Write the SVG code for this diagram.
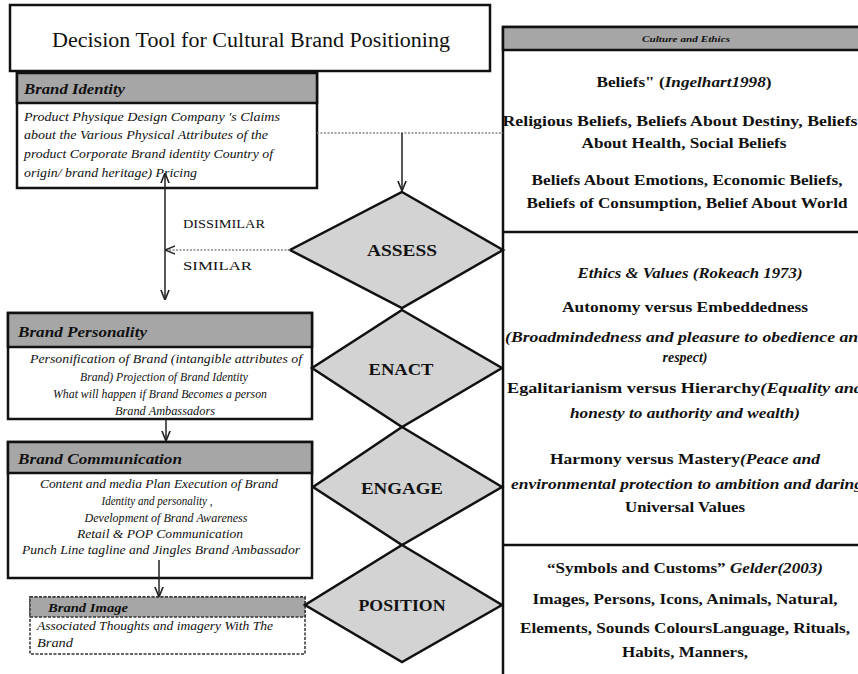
<svg xmlns="http://www.w3.org/2000/svg" width="858" height="674" viewBox="0 0 858 674">
<defs>
<style>
.box{fill:#fff;stroke:#111;stroke-width:2.5}
.hdr{fill:#a6a6a6;stroke:#111;stroke-width:2.5}
.dia{fill:#d3d3d3;stroke:#111;stroke-width:2.5}
text{font-family:Times,"Times New Roman","Liberation Serif","DejaVu Serif",serif;fill:#111}
.title{font-size:20px}
.h{font-size:15px;font-weight:bold;font-style:italic}
.b{font-size:12px;font-style:italic}
.dl{font-size:17px;font-weight:bold;text-anchor:middle}
.p{font-size:15px;font-weight:bold;text-anchor:middle}
.ps{font-size:15px;font-weight:bold}
.i{font-style:italic}
.lab{font-size:13px}
.ln{stroke:#222;stroke-width:1.5;fill:none}
.dot{stroke:#888;stroke-width:1.5;stroke-dasharray:2 1.5;fill:none}
</style>
<marker id="ah" viewBox="0 0 10 10" refX="9" refY="5" markerWidth="7" markerHeight="7" orient="auto-start-reverse">
<path d="M0,1 L10,5 L0,9" fill="none" stroke="#222" stroke-width="1.5"/>
</marker>
</defs>
<rect width="858" height="674" fill="#fff"/>

<g id="title">
<rect class="box" x="10" y="5" width="480" height="66" stroke-width="2"/>
<text class="title" x="251" y="47" text-anchor="middle" textLength="398" lengthAdjust="spacingAndGlyphs">Decision Tool for Cultural Brand Positioning</text>
</g>

<g id="culture-ethics">
<rect class="box" x="503" y="27" width="370" height="660"/>
<rect class="hdr" x="503" y="27" width="370" height="23"/>
<text x="686" y="42" font-size="8" font-weight="bold" font-style="italic" text-anchor="middle" textLength="88" lengthAdjust="spacingAndGlyphs">Culture and Ethics</text>
<line x1="503" y1="232" x2="873" y2="232" stroke="#111" stroke-width="2.5"/>
<line x1="503" y1="545" x2="873" y2="545" stroke="#111" stroke-width="2.5"/>
<text class="p" x="684" y="87" textLength="175" lengthAdjust="spacingAndGlyphs">Beliefs" (<tspan class="i">Ingelhart1998</tspan>)</text>
<text class="p" x="680" y="126" textLength="355" lengthAdjust="spacingAndGlyphs">Religious Beliefs, Beliefs About Destiny, Beliefs</text>
<text class="p" x="684" y="148" textLength="205" lengthAdjust="spacingAndGlyphs">About Health, Social Beliefs</text>
<text class="p" x="687" y="185" textLength="311" lengthAdjust="spacingAndGlyphs">Beliefs About Emotions, Economic Beliefs,</text>
<text class="p" x="687" y="208" textLength="321" lengthAdjust="spacingAndGlyphs">Beliefs of Consumption, Belief About World</text>

<text class="p i" x="690" y="278" textLength="225" lengthAdjust="spacingAndGlyphs">Ethics &amp; Values  (Rokeach 1973)</text>
<text class="p" x="685" y="312" textLength="246" lengthAdjust="spacingAndGlyphs">Autonomy versus  Embeddedness</text>
<text class="ps i" x="505" y="342" textLength="362" lengthAdjust="spacingAndGlyphs">(Broadmindedness and pleasure to obedience and</text>
<text class="p i" x="685" y="362" textLength="45" lengthAdjust="spacingAndGlyphs">respect)</text>
<text class="ps" x="507" y="393" textLength="356" lengthAdjust="spacingAndGlyphs">Egalitarianism versus Hierarchy<tspan class="i">(Equality and</tspan></text>
<text class="p i" x="685" y="418" textLength="230" lengthAdjust="spacingAndGlyphs">honesty to authority and wealth)</text>
<text class="p" x="685" y="464" textLength="270" lengthAdjust="spacingAndGlyphs">Harmony versus  Mastery<tspan class="i">(Peace and</tspan></text>
<text class="ps i" x="511" y="489" textLength="352" lengthAdjust="spacingAndGlyphs">environmental protection to ambition and daring</text>
<text class="p" x="685" y="512" textLength="120" lengthAdjust="spacingAndGlyphs">Universal Values</text>

<text class="p" x="685" y="573" textLength="276" lengthAdjust="spacingAndGlyphs">“Symbols and Customs” <tspan class="i">Gelder(2003)</tspan></text>
<text class="p" x="685" y="604" textLength="305" lengthAdjust="spacingAndGlyphs">Images, Persons, Icons, Animals, Natural,</text>
<text class="p" x="685" y="633" textLength="330" lengthAdjust="spacingAndGlyphs">Elements, Sounds ColoursLanguage, Rituals,</text>
<text class="p" x="685" y="657" textLength="126" lengthAdjust="spacingAndGlyphs">Habits, Manners,</text>
</g>

<g id="brand-identity">
<rect class="box" x="17" y="73" width="300" height="115"/>
<rect class="hdr" x="17" y="73" width="300" height="30"/>
<text class="h" x="24" y="94" textLength="101" lengthAdjust="spacingAndGlyphs">Brand Identity</text>
<text class="b" x="24" y="121" textLength="256" lengthAdjust="spacingAndGlyphs">Product  Physique  Design Company 's Claims</text>
<text class="b" x="24" y="139" textLength="244" lengthAdjust="spacingAndGlyphs">about the Various  Physical  Attributes of the</text>
<text class="b" x="24" y="158" textLength="249" lengthAdjust="spacingAndGlyphs">product Corporate Brand identity  Country of</text>
<text class="b" x="24" y="177" textLength="173" lengthAdjust="spacingAndGlyphs">origin/ brand heritage)  Pricing</text>
</g>

<g id="brand-personality">
<rect class="box" x="8" y="313" width="304" height="106"/>
<rect class="hdr" x="8" y="313" width="304" height="34"/>
<text class="h" x="18" y="337" textLength="129" lengthAdjust="spacingAndGlyphs">Brand Personality</text>
<text class="b" x="166" y="363" text-anchor="middle" textLength="272" lengthAdjust="spacingAndGlyphs">Personification of Brand (intangible attributes of</text>
<text class="b" x="164" y="381" text-anchor="middle" textLength="168" lengthAdjust="spacingAndGlyphs">Brand) Projection of Brand Identity</text>
<text class="b" x="160" y="398" text-anchor="middle" textLength="214" lengthAdjust="spacingAndGlyphs">What will happen if Brand Becomes a person</text>
<text class="b" x="165" y="415" text-anchor="middle" textLength="100" lengthAdjust="spacingAndGlyphs">Brand Ambassadors</text>
</g>

<g id="brand-communication">
<rect class="box" x="8" y="442" width="304" height="136"/>
<rect class="hdr" x="8" y="442" width="304" height="31"/>
<text class="h" x="18" y="464" textLength="164" lengthAdjust="spacingAndGlyphs">Brand Communication</text>
<text class="b" x="159" y="488" text-anchor="middle" textLength="238" lengthAdjust="spacingAndGlyphs">Content and media Plan Execution of Brand</text>
<text class="b" x="157" y="505" text-anchor="middle" textLength="111" lengthAdjust="spacingAndGlyphs">Identity and personality ,</text>
<text class="b" x="166" y="522" text-anchor="middle" textLength="163" lengthAdjust="spacingAndGlyphs">Development of Brand Awareness</text>
<text class="b" x="160" y="538" text-anchor="middle" textLength="166" lengthAdjust="spacingAndGlyphs">Retail &amp; POP Communication</text>
<text class="b" x="161" y="554" text-anchor="middle" textLength="278" lengthAdjust="spacingAndGlyphs">Punch Line tagline and Jingles Brand Ambassador</text>
</g>

<g id="brand-image">
<rect x="30" y="597" width="275" height="57" fill="#fff" stroke="#333" stroke-width="1.5" stroke-dasharray="3 1.5"/>
<rect x="30" y="597" width="275" height="20" fill="#a6a6a6" stroke="#333" stroke-width="1.5" stroke-dasharray="3 1.5"/>
<text x="48" y="612" font-size="13" font-weight="bold" font-style="italic" textLength="80" lengthAdjust="spacingAndGlyphs">Brand Image</text>
<text class="b" x="37" y="630" textLength="236" lengthAdjust="spacingAndGlyphs">Associated Thoughts and imagery With The</text>
<text class="b" x="37" y="647" font-size="10" textLength="36" lengthAdjust="spacingAndGlyphs">Brand</text>
</g>

<g id="assess">
<polygon class="dia" points="402,192 503,250 402,308 290,250"/>
<text class="dl" x="402" y="256" textLength="70" lengthAdjust="spacingAndGlyphs">ASSESS</text>
</g>
<g id="enact">
<polygon class="dia" points="402,310 502,368 402,427 312,368"/>
<text class="dl" x="401" y="375" textLength="65" lengthAdjust="spacingAndGlyphs">ENACT</text>
</g>
<g id="engage">
<polygon class="dia" points="402,427 502,487 402,545 313,487"/>
<text class="dl" x="402" y="494" textLength="82" lengthAdjust="spacingAndGlyphs">ENGAGE</text>
</g>
<g id="position">
<polygon class="dia" points="402,545 502,605 402,662 305,605"/>
<text class="dl" x="402" y="611" textLength="87" lengthAdjust="spacingAndGlyphs">POSITION</text>
</g>

<g id="connectors">
<line class="dot" x1="317" y1="133" x2="503" y2="133"/>
<line class="ln" x1="402" y1="133" x2="402" y2="190" marker-end="url(#ah)"/>
<line class="ln" x1="165" y1="174" x2="165" y2="299" marker-start="url(#ah)" marker-end="url(#ah)"/>
<line class="dot" x1="290" y1="250" x2="166" y2="250" marker-end="url(#ah)"/>
<line class="ln" x1="166" y1="419" x2="166" y2="440" marker-end="url(#ah)"/>
<line class="ln" x1="159" y1="560" x2="159" y2="596" marker-end="url(#ah)"/>
<text class="lab" x="183" y="228" textLength="82" lengthAdjust="spacingAndGlyphs">DISSIMILAR</text>
<text class="lab" x="183" y="270" textLength="69" lengthAdjust="spacingAndGlyphs">SIMILAR</text>
</g>
</svg>
